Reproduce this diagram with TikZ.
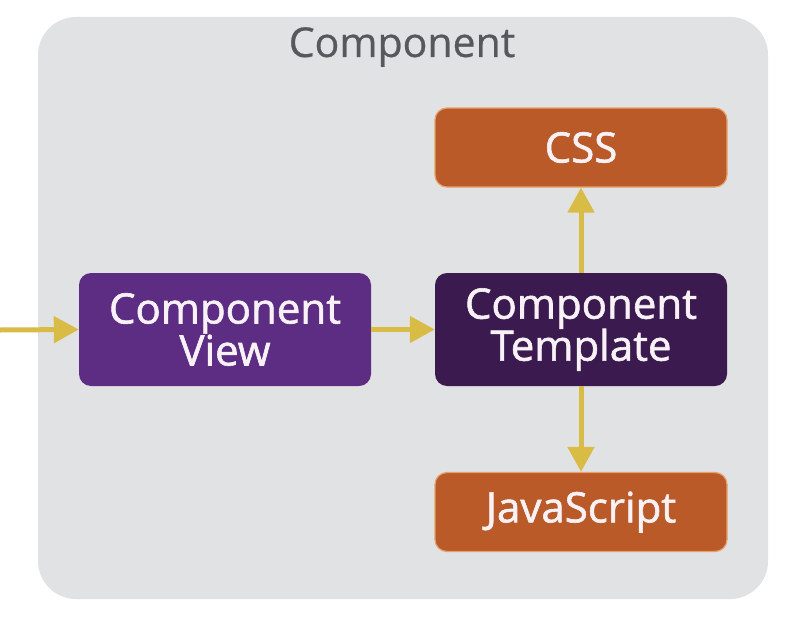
\documentclass[tikz,border=0pt]{standalone}
\usepackage{fontspec}
\setmainfont{Open Sans}
\newfontfamily\boxfont{Open Sans}[FakeBold=1.4]
\newfontfamily\titlefont{Open Sans}[FakeBold=0.6]
\usetikzlibrary{arrows.meta}
\definecolor{bgray}{HTML}{E1E2E4}
\definecolor{titlegray}{HTML}{55585C}
\definecolor{viewpurple}{HTML}{5C2D82}
\definecolor{tplpurple}{HTML}{3B1A50}
\definecolor{orangebox}{HTML}{BA5A28}
\definecolor{orangeedge}{HTML}{E6A06A}
\definecolor{arrowyellow}{HTML}{D8BC45}
\definecolor{boxtext}{HTML}{F8F2F6}
\tikzset{
  box/.style={rounded corners=12pt, minimum width=292pt, inner sep=0pt,
    text=boxtext, align=center, font=\boxfont\fontsize{42}{42}\selectfont},
  bigbox/.style={box, minimum height=113pt},
  smallbox/.style={box, minimum height=79pt, fill=orangebox, draw=orangeedge, line width=1.2pt},
  arr/.style={draw=arrowyellow, line width=5pt,
    -{Triangle[length=25pt,width=26pt,fill=arrowyellow]}}
}
\begin{document}
\begin{tikzpicture}[x=1pt,y=-1pt]
\useasboundingbox (0,0) rectangle (800,618);
\fill[white] (0,0) rectangle (800,618);
\fill[bgray, rounded corners=38pt] (38,17) rectangle (768,599);
\node[text=titlegray, font=\titlefont\fontsize{41}{41}\selectfont] (title) at (402,47) {Component};
\node[bigbox, fill=viewpurple] (view) at (225,329.5) {Component\\View};
\node[bigbox, fill=tplpurple] (tpl) at (581,329.5) {Component\\Template};
\node[smallbox] (css) at (581,147.5) {CSS};
\node[smallbox] (js) at (581,512) {JavaScript};
\coordinate (in) at (0,330);
\draw[arr] (in) -- (view.west);
\draw[arr] (view.east) -- (tpl.west);
\draw[arr] (tpl.north) -- (css.south);
\draw[arr] (tpl.south) -- (js.north);
\end{tikzpicture}
\end{document}
